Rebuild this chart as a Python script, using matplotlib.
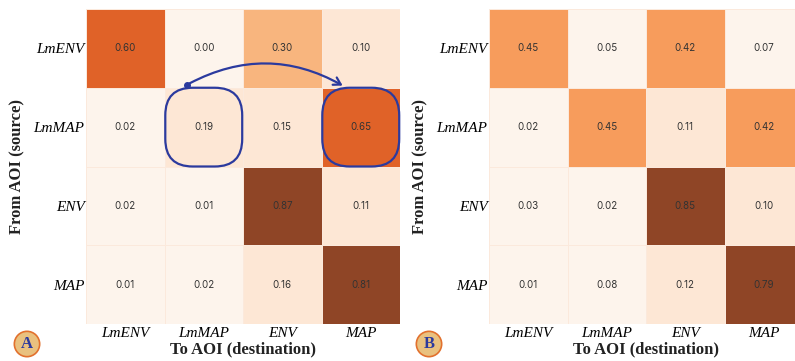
import numpy as np
import matplotlib.pyplot as plt
from matplotlib.colors import ListedColormap, BoundaryNorm
from matplotlib.patches import FancyBboxPatch

aois = ['LmENV', 'LmMAP', 'ENV', 'MAP']

# transition probabilities, rows = source AOI, cols = destination AOI
trans_a = [[0.60, 0.00, 0.30, 0.10],
           [0.02, 0.19, 0.15, 0.65],
           [0.02, 0.01, 0.87, 0.11],
           [0.01, 0.02, 0.16, 0.81]]
trans_b = [[0.45, 0.05, 0.42, 0.07],
           [0.02, 0.45, 0.11, 0.42],
           [0.03, 0.02, 0.85, 0.10],
           [0.01, 0.08, 0.12, 0.79]]
panel_tags = ['A', 'B']

# stepped orange scale
cmap = ListedColormap(['#fdf4ec', '#fde7d5', '#f8b57e', '#f79c5c', '#e06228', '#8f4526'])
norm = BoundaryNorm([0, 0.1, 0.2, 0.4, 0.55, 0.75, 1.0], cmap.N)

serif = 'Liberation Serif'
navy = '#2b3a9e'

fig = plt.figure(figsize=(7.95, 3.61), dpi=100)
ax_a = fig.add_axes([86/795, 37/361, 314/795, 315/361])
ax_b = fig.add_axes([489/795, 37/361, 314/795, 315/361])

for ax, data in [(ax_a, trans_a), (ax_b, trans_b)]:
    m = np.array(data)
    ax.pcolormesh(m, cmap=cmap, norm=norm, edgecolors='#fbe9dc', linewidth=0.4)
    for i in range(len(aois)):
        for j in range(len(aois)):
            ax.text(j + 0.5, i + 0.5, f'{m[i, j]:.2f}', ha='center', va='center',
                    fontsize=7, color='#333333', family='Inter')
    ax.set_xlim(0, 4)
    ax.set_ylim(4, 0)
    ax.set_xticks(np.arange(4) + 0.5)
    ax.set_yticks(np.arange(4) + 0.5)
    ax.set_xticklabels(aois, fontsize=11, style='italic', family=serif)
    ax.set_yticklabels(aois, fontsize=11, style='italic', family=serif)
    ax.tick_params(length=0, pad=2)
    ax.tick_params(axis='y', pad=1)
    for s in ax.spines.values():
        s.set_visible(False)
    ax.set_xlabel('To AOI (destination)', fontsize=12, family=serif, fontweight='bold',
                  color='#222222', labelpad=1)
    ax.set_ylabel('From AOI (source)', fontsize=12, family=serif, fontweight='bold',
                  color='#222222', labelpad=6)

# highlight LmMAP -> MAP transition in panel A
for col in [1, 3]:
    box = FancyBboxPatch((col + 0.01, 1.0), 0.98, 1.0, boxstyle='round,pad=0,rounding_size=0.35',
                         fc='none', ec=navy, lw=1.6, clip_on=False, zorder=5)
    ax_a.add_patch(box)
ax_a.plot(1.29, 0.96, 'o', color=navy, ms=4, zorder=6, clip_on=False)
ax_a.annotate('', xy=(3.3, 0.99), xytext=(1.29, 0.96),
              arrowprops=dict(arrowstyle='->,head_length=0.5,head_width=0.3', color=navy, lw=1.6,
                              connectionstyle='arc3,rad=-0.28'), zorder=6)

for tag, x in zip(panel_tags, [27/795, 429/795]):
    fig.text(x, 17/361, tag, ha='center', va='center', fontsize=12, fontweight='bold',
             family=serif, color=navy,
             bbox=dict(boxstyle='circle,pad=0.28', fc='#e9c17f', ec='#e2712e', lw=1.2))

fig.savefig('out.png', dpi=100)
